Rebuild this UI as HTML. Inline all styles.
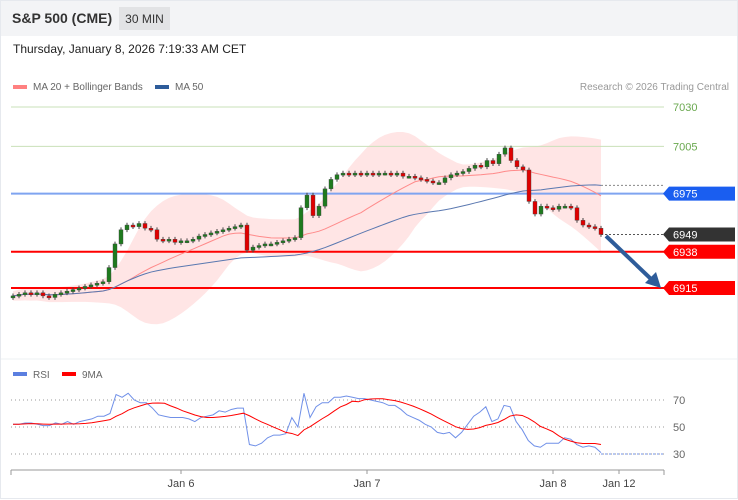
<!DOCTYPE html>
<html><head><meta charset="utf-8"><style>
body{margin:0;width:738px;height:500px;overflow:hidden;background:#fff;font-family:"Liberation Sans",sans-serif}
svg{position:absolute;left:0;top:0}
</style></head><body>
<svg id="c" width="738" height="500">
<rect x="0.5" y="0.5" width="737" height="498" fill="#fff" stroke="#e6e9ee"/>
<rect x="1" y="1" width="736" height="35" fill="#f3f4f6"/>
<text x="12" y="23" font-size="14" font-weight="bold" fill="#333">S&amp;P 500 (CME)</text>
<rect x="119" y="7" width="51" height="23" fill="#e2e3e5"/>
<text x="144.5" y="23" font-size="12" fill="#333" text-anchor="middle">30 MIN</text>
<text x="13" y="53" font-size="12" fill="#222">Thursday, January 8, 2026 7:19:33 AM CET</text>
<rect x="13" y="85" width="14" height="4" fill="#ff8080"/>
<text x="33" y="90" font-size="10" fill="#666">MA 20 + Bollinger Bands</text>
<rect x="155" y="85" width="14" height="4" fill="#2e5c9a"/>
<text x="175" y="90" font-size="10" fill="#666">MA 50</text>
<text x="729" y="90" font-size="10" fill="#999" text-anchor="end">Research © 2026 Trading Central</text>
<line x1="1" y1="359" x2="737" y2="359" stroke="#eef0f3"/>
<rect x="13" y="372" width="14" height="4" fill="#5b7fe0"/>
<text x="33" y="378" font-size="10" fill="#666">RSI</text>
<rect x="62" y="372" width="14" height="4" fill="#f00"/>
<text x="82" y="378" font-size="10" fill="#666">9MA</text>
<g id="g"></g>
</svg>
<script>
const closes=[6910,6911,6912,6911,6912,6910,6909,6911,6912,
6913,6914,6915,6916,6917,6918,6919,
6928,6943,6952,
6955,6954,6956,6953,6952,
6946,6945,6946,6944,6945,6945,6946,
6948,6949,6950,6951,6952,6953,6954,6955,
6939,
6941,6942,6943,6943,6944,6945,
6946,6947,
6966,6974,
6961,6967,6978,
6984,6987,
6988,6987,6988,6987,6988,6987,6988,6988,6987,6988,
6986,6986,6985,6984,6983,6982,6982,
6985,6987,6988,6989,6991,
6993,6992,6996,6994,7000,
7004,
6996,6992,6990,
6970,
6962,6967,
6966,6965,6967,6967,6966,
6958,6955,6954,6953,6949];
const rsi=[52,52,53,53,52,51,51,53,52,54,52,54,55,56,58,58,60,74,72,75,70,68,68,64,59,58,57,57,57,56,54,57,58,59,62,61,63,64,64,37,36,38,42,44,44,45,57,50,75,57,65,68,68,72,72,73,72,71,71,70,69,68,66,66,63,59,57,55,52,50,46,45,46,42,46,52,58,61,65,54,56,66,65,54,48,40,36,35,38,38,38,42,41,37,35,36,35,31];
const levelValues=[7030,7005,6975,6949,6938,6915];
const levelColors=["#6aa84f","#6aa84f","#1a5ef0","#333","#f00","#f00"];
const rsiTicks=[70,50,30];
const dateLabels=["Jan 6","Jan 7","Jan 8","Jan 12"];
const dateIdx=[28,59,90,101];
const ns="http://www.w3.org/2000/svg",G=document.getElementById('g');
function el(t,a,p){const e=document.createElementNS(ns,t);for(const k in a)e.setAttribute(k,a[k]);(p||G).appendChild(e);return e;}
const step=588/(closes.length-1);
const y=v=>107+(7030-v)*1.574;
const x=i=>13+i*step;
const xr=i=>13+i*588/(rsi.length-1);
const ry=v=>427-(v-50)*1.35;
const ma=(arr,n)=>arr.map((_,i)=>{const s=arr.slice(Math.max(0,i-n+1),i+1);return s.reduce((a,b)=>a+b,0)/s.length;});
const m20=ma(closes,20),m50=ma(closes,50);
const sd=closes.map((_,i)=>{const s=closes.slice(Math.max(0,i-19),i+1);const m=m20[i];return Math.sqrt(s.reduce((a,b)=>a+(b-m)**2,0)/s.length);});
const sds=ma(sd,5);
const N=closes.length-1;
let up=closes.map((_,i)=>x(i)+','+y(m20[i]+2*sds[i]+3)).join(' ');
let dn=closes.map((_,i)=>x(i)+','+y(m20[i]-2*sds[i]-3)).reverse().join(' ');
let b=el('polygon',{points:up+' '+dn,fill:'#ffdede','fill-opacity':0.8});


const lw=[1,1,2,0,2,2];
levelValues.forEach((v,k)=>{
 if(lw[k]){let l=el('line',{x1:11,x2:664,y1:y(v),y2:y(v),stroke:k<2?'#c9e0b8':(k==2?'#7fa4f0':'#f00'),'stroke-width':lw[k]});
 
 }
 if(k<2){let t=el('text',{x:673,y:y(v)+4,'font-size':11,fill:levelColors[k]});t.textContent=v;
 
 }
 else{const yy=y(v);let p=el('polygon',{points:`663,${yy} 669,${yy-7} 735,${yy-7} 735,${yy+7} 669,${yy+7}`,fill:levelColors[k]});
 
 
 let t=el('text',{x:673,y:yy+4,'font-size':11,fill:'#fff'});t.textContent=v;
 
 }
});
let d1=el('line',{x1:x(N),x2:663,y1:y(6949),y2:y(6949),stroke:'#555','stroke-dasharray':'2,2'});


let d2=el('line',{x1:x(N),x2:663,y1:y(m50[N]),y2:y(m50[N]),stroke:'#888','stroke-dasharray':'2,2'});


let p1=el('polyline',{points:m20.map((v,i)=>x(i)+','+y(v)).join(' '),fill:'none',stroke:'#ff8a8a','stroke-width':1});


let p2=el('polyline',{points:m50.map((v,i)=>x(i)+','+y(v)).join(' '),fill:'none',stroke:'#5a78b0','stroke-width':1});


closes.forEach((c,i)=>{const o=i?closes[i-1]:c-1;const hi=Math.max(o,c)+1.5,lo=Math.min(o,c)-1.5;
 const g=el('g',{});
 
 
 el('line',{x1:x(i),x2:x(i),y1:y(hi),y2:y(lo),stroke:'#444'},g);
 const t=Math.min(y(o),y(c)),h=Math.max(2,Math.abs(y(o)-y(c)));
 el('rect',{x:x(i)-2,y:t,width:4,height:h,fill:c>=o?'#1e7b1e':'#e00000',stroke:'#444','stroke-width':0.4},g);
});
let ar=el('g',{});


el('line',{x1:606,y1:236,x2:651,y2:279,stroke:'#2e5c9a','stroke-width':4},ar);
el('polygon',{points:'661,288 645,283 656,272',fill:'#2e5c9a'},ar);
const rma=ma(rsi,9);
rsiTicks.forEach(v=>{let l=el('line',{x1:11,x2:664,y1:ry(v),y2:ry(v),stroke:'#999','stroke-dasharray':'1,3'});
 
 
 let t=el('text',{x:673,y:ry(v)+4,'font-size':11,fill:'#666'});t.textContent=v;
 
 });
let r1=el('polyline',{points:rsi.map((v,i)=>xr(i)+','+ry(v)).join(' '),fill:'none',stroke:'#7090e8','stroke-width':1});


let r2=el('polyline',{points:rma.map((v,i)=>xr(i)+','+ry(v)).join(' '),fill:'none',stroke:'#f00','stroke-width':1});


let dl=el('line',{x1:xr(rsi.length-1),x2:663,y1:ry(30),y2:ry(30),stroke:'#7090e8','stroke-dasharray':'2,2'});


let ax=el('line',{x1:11,x2:664,y1:470,y2:470,stroke:'#999'});


[11,664].forEach(xx=>{el('line',{x1:xx,x2:xx,y1:470,y2:475,stroke:'#999'});});
dateLabels.forEach((s,k)=>{const xx=x(dateIdx[k]);
 el('line',{x1:xx,x2:xx,y1:470,y2:474,stroke:'#999'});
 let t=el('text',{x:xx,y:487,'font-size':11,fill:'#444','text-anchor':'middle'});t.textContent=s;
 
 });
</script>
</body></html>
